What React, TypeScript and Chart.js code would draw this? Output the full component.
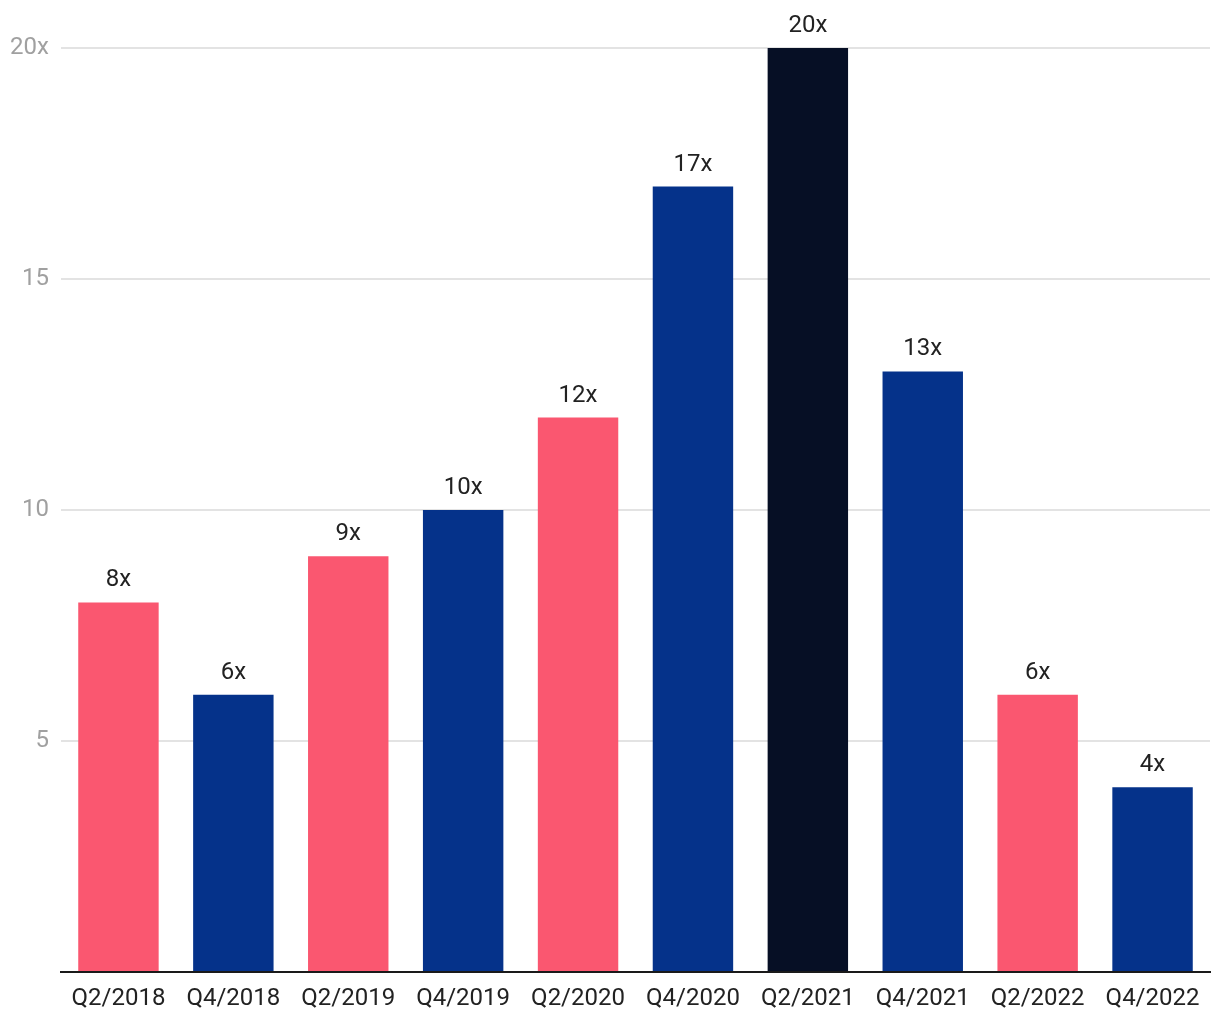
import React, { useEffect, useRef } from "react";
import { Chart, registerables } from "chart.js";

Chart.register(...registerables);

const categories = ["Q2/2018", "Q4/2018", "Q2/2019", "Q4/2019", "Q2/2020", "Q4/2020", "Q2/2021", "Q4/2021", "Q2/2022", "Q4/2022"];
const values = [8, 6, 9, 10, 12, 17, 20, 13, 6, 4];
const barColors = ["#FA5770", "#05328A", "#FA5770", "#05328A", "#FA5770", "#05328A", "#060F25", "#05328A", "#FA5770", "#05328A"];
const yTicks = [5, 10, 15, 20];

const FONT = "Roboto, 'Noto Sans', sans-serif";

const labelPlugin = {
  id: "barLabels",
  afterDatasetsDraw(chart: any) {
    const { ctx } = chart;
    const meta = chart.getDatasetMeta(0);
    ctx.save();
    ctx.font = `24px ${FONT}`;
    ctx.fillStyle = "#222222";
    ctx.textAlign = "center";
    ctx.textBaseline = "alphabetic";
    meta.data.forEach((el: any, i: number) => {
      ctx.fillText(values[i] + "x", el.x, el.y - 16);
    });
    ctx.restore();
  },
};

export default function App() {
  const ref = useRef<HTMLCanvasElement>(null);
  useEffect(() => {
    if (!ref.current) return;
    const chart = new Chart(ref.current, {
      type: "bar",
      data: {
        labels: categories,
        datasets: [
          {
            data: values,
            backgroundColor: barColors,
            barPercentage: 0.7,
            categoryPercentage: 1,
          },
        ],
      },
      options: {
        responsive: false,
        animation: false,
        devicePixelRatio: 1,
        layout: { padding: { top: 48, right: 10, left: 0, bottom: 0 } },
        plugins: { legend: { display: false }, tooltip: { enabled: false } },
        scales: {
          x: {
            grid: { display: false },
            border: { display: true, color: "#1a1a1a", width: 2 },
            ticks: { color: "#222222", font: { size: 24, family: FONT }, padding: 5, maxRotation: 0, autoSkip: false },
            afterFit: (s: any) => { s.height = 48; },
          },
          y: {
            min: 0,
            max: 20,
            afterBuildTicks: (s: any) => { s.ticks = [0, ...yTicks].map((v) => ({ value: v })); },
            grid: {
              drawTicks: false,
              color: (c: any) => (c.tick && c.tick.value === 0 ? "rgba(0,0,0,0)" : "#e3e3e3"),
              lineWidth: 2,
            },
            border: { display: false },
            ticks: {
              color: "#a0a0a0",
              font: { size: 24, family: FONT },
              padding: 12,
              callback: (v: any) => (v === 0 ? "" : v === 20 ? "20x" : String(v)),
            },
            afterFit: (s: any) => { s.width = 61; },
          },
        },
      },
      plugins: [labelPlugin],
    });
    return () => chart.destroy();
  }, []);
  return (
    <div style={{ position: "absolute", left: 0, top: 0, width: 1220, height: 1020, background: "#fff" }}>
      <canvas ref={ref} width={1220} height={1020} />
    </div>
  );
}
